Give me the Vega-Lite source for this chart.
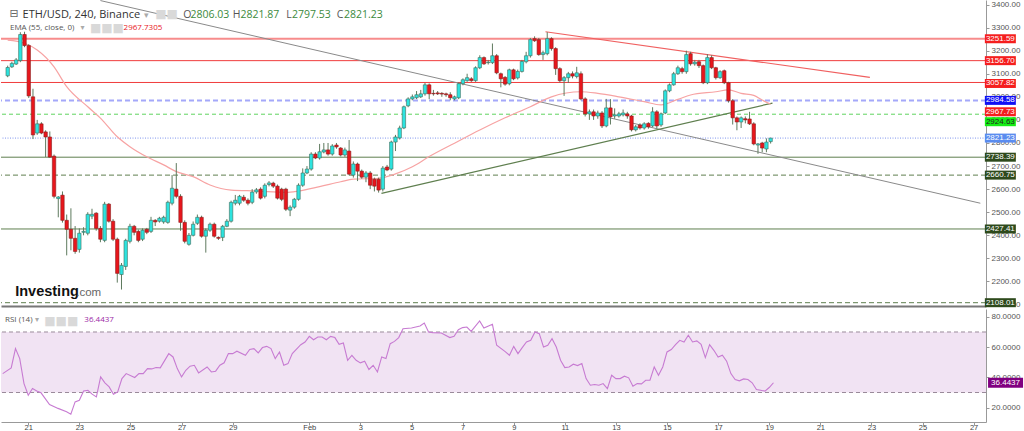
{
"$schema":"https://vega.github.io/schema/vega-lite/v6.json",
"padding":0,"spacing":0,"background":"white",
"config":{"view":{"stroke":null},"font":"Liberation Sans","axis":{"grid":false,"labelOverlap":false,"labelBound":false}},
"datasets":{
"candles":[
{"t":"2022-01-20T00:00:00Z","o":3091,"h":3135,"l":3085,"c":3127},
{"t":"2022-01-20T04:00:00Z","o":3130,"h":3152,"l":3125,"c":3145},
{"t":"2022-01-20T08:00:00Z","o":3142,"h":3168,"l":3138,"c":3160},
{"t":"2022-01-20T12:00:00Z","o":3157,"h":3280,"l":3150,"c":3270},
{"t":"2022-01-20T16:00:00Z","o":3270,"h":3282,"l":3215,"c":3222},
{"t":"2022-01-20T20:00:00Z","o":3222,"h":3228,"l":2995,"c":3004},
{"t":"2022-01-21T00:00:00Z","o":3000,"h":3035,"l":2817,"c":2835},
{"t":"2022-01-21T04:00:00Z","o":2843,"h":2900,"l":2835,"c":2883},
{"t":"2022-01-21T08:00:00Z","o":2883,"h":2890,"l":2838,"c":2843},
{"t":"2022-01-21T12:00:00Z","o":2848,"h":2855,"l":2739,"c":2826},
{"t":"2022-01-21T16:00:00Z","o":2826,"h":2850,"l":2735,"c":2739},
{"t":"2022-01-21T20:00:00Z","o":2743,"h":2750,"l":2560,"c":2569},
{"t":"2022-01-22T00:00:00Z","o":2559,"h":2570,"l":2478,"c":2566},
{"t":"2022-01-22T04:00:00Z","o":2574,"h":2590,"l":2455,"c":2465},
{"t":"2022-01-22T08:00:00Z","o":2465,"h":2490,"l":2313,"c":2426},
{"t":"2022-01-22T12:00:00Z","o":2426,"h":2517,"l":2335,"c":2387},
{"t":"2022-01-22T16:00:00Z","o":2387,"h":2440,"l":2320,"c":2330},
{"t":"2022-01-22T20:00:00Z","o":2339,"h":2430,"l":2325,"c":2409},
{"t":"2022-01-23T00:00:00Z","o":2413,"h":2435,"l":2400,"c":2417},
{"t":"2022-01-23T04:00:00Z","o":2409,"h":2500,"l":2400,"c":2491},
{"t":"2022-01-23T08:00:00Z","o":2483,"h":2515,"l":2470,"c":2491},
{"t":"2022-01-23T12:00:00Z","o":2496,"h":2500,"l":2420,"c":2430},
{"t":"2022-01-23T16:00:00Z","o":2430,"h":2440,"l":2370,"c":2383},
{"t":"2022-01-23T20:00:00Z","o":2378,"h":2545,"l":2370,"c":2535},
{"t":"2022-01-24T00:00:00Z","o":2535,"h":2540,"l":2455,"c":2461},
{"t":"2022-01-24T04:00:00Z","o":2461,"h":2470,"l":2375,"c":2383},
{"t":"2022-01-24T08:00:00Z","o":2383,"h":2390,"l":2195,"c":2235},
{"t":"2022-01-24T12:00:00Z","o":2230,"h":2280,"l":2165,"c":2270},
{"t":"2022-01-24T16:00:00Z","o":2265,"h":2385,"l":2250,"c":2378},
{"t":"2022-01-24T20:00:00Z","o":2374,"h":2450,"l":2365,"c":2439},
{"t":"2022-01-25T00:00:00Z","o":2439,"h":2445,"l":2400,"c":2413},
{"t":"2022-01-25T04:00:00Z","o":2417,"h":2425,"l":2370,"c":2378},
{"t":"2022-01-25T08:00:00Z","o":2383,"h":2430,"l":2375,"c":2422},
{"t":"2022-01-25T12:00:00Z","o":2426,"h":2432,"l":2405,"c":2413},
{"t":"2022-01-25T16:00:00Z","o":2417,"h":2480,"l":2410,"c":2465},
{"t":"2022-01-25T20:00:00Z","o":2465,"h":2470,"l":2440,"c":2458},
{"t":"2022-01-26T00:00:00Z","o":2461,"h":2480,"l":2455,"c":2474},
{"t":"2022-01-26T04:00:00Z","o":2458,"h":2485,"l":2450,"c":2478},
{"t":"2022-01-26T08:00:00Z","o":2456,"h":2550,"l":2450,"c":2543},
{"t":"2022-01-26T12:00:00Z","o":2539,"h":2661,"l":2530,"c":2604},
{"t":"2022-01-26T16:00:00Z","o":2600,"h":2713,"l":2560,"c":2569},
{"t":"2022-01-26T20:00:00Z","o":2569,"h":2578,"l":2420,"c":2456},
{"t":"2022-01-27T00:00:00Z","o":2456,"h":2465,"l":2365,"c":2374},
{"t":"2022-01-27T04:00:00Z","o":2361,"h":2410,"l":2355,"c":2400},
{"t":"2022-01-27T08:00:00Z","o":2400,"h":2460,"l":2395,"c":2448},
{"t":"2022-01-27T12:00:00Z","o":2452,"h":2490,"l":2445,"c":2478},
{"t":"2022-01-27T16:00:00Z","o":2478,"h":2485,"l":2390,"c":2396},
{"t":"2022-01-27T20:00:00Z","o":2396,"h":2430,"l":2325,"c":2422},
{"t":"2022-01-28T00:00:00Z","o":2422,"h":2455,"l":2415,"c":2448},
{"t":"2022-01-28T04:00:00Z","o":2448,"h":2455,"l":2390,"c":2396},
{"t":"2022-01-28T08:00:00Z","o":2391,"h":2395,"l":2380,"c":2387},
{"t":"2022-01-28T12:00:00Z","o":2391,"h":2445,"l":2375,"c":2439},
{"t":"2022-01-28T16:00:00Z","o":2439,"h":2470,"l":2435,"c":2461},
{"t":"2022-01-28T20:00:00Z","o":2461,"h":2550,"l":2455,"c":2543},
{"t":"2022-01-29T00:00:00Z","o":2539,"h":2575,"l":2530,"c":2552},
{"t":"2022-01-29T04:00:00Z","o":2539,"h":2575,"l":2530,"c":2569},
{"t":"2022-01-29T08:00:00Z","o":2565,"h":2575,"l":2545,"c":2552},
{"t":"2022-01-29T12:00:00Z","o":2552,"h":2560,"l":2530,"c":2539},
{"t":"2022-01-29T16:00:00Z","o":2543,"h":2600,"l":2535,"c":2587},
{"t":"2022-01-29T20:00:00Z","o":2588,"h":2605,"l":2580,"c":2597},
{"t":"2022-01-30T00:00:00Z","o":2600,"h":2608,"l":2555,"c":2561},
{"t":"2022-01-30T04:00:00Z","o":2569,"h":2625,"l":2560,"c":2617},
{"t":"2022-01-30T08:00:00Z","o":2620,"h":2635,"l":2612,"c":2627},
{"t":"2022-01-30T12:00:00Z","o":2626,"h":2632,"l":2605,"c":2613},
{"t":"2022-01-30T16:00:00Z","o":2613,"h":2620,"l":2555,"c":2561},
{"t":"2022-01-30T20:00:00Z","o":2600,"h":2606,"l":2548,"c":2556},
{"t":"2022-01-31T00:00:00Z","o":2600,"h":2606,"l":2505,"c":2513},
{"t":"2022-01-31T04:00:00Z","o":2509,"h":2530,"l":2483,"c":2522},
{"t":"2022-01-31T08:00:00Z","o":2522,"h":2562,"l":2515,"c":2556},
{"t":"2022-01-31T12:00:00Z","o":2556,"h":2625,"l":2550,"c":2617},
{"t":"2022-01-31T16:00:00Z","o":2617,"h":2690,"l":2610,"c":2670},
{"t":"2022-01-31T20:00:00Z","o":2670,"h":2700,"l":2665,"c":2687},
{"t":"2022-02-01T00:00:00Z","o":2687,"h":2760,"l":2680,"c":2752},
{"t":"2022-02-01T04:00:00Z","o":2752,"h":2760,"l":2730,"c":2735},
{"t":"2022-02-01T08:00:00Z","o":2735,"h":2796,"l":2728,"c":2762},
{"t":"2022-02-01T12:00:00Z","o":2761,"h":2800,"l":2755,"c":2770},
{"t":"2022-02-01T16:00:00Z","o":2770,"h":2800,"l":2745,"c":2752},
{"t":"2022-02-01T20:00:00Z","o":2752,"h":2795,"l":2745,"c":2787},
{"t":"2022-02-02T00:00:00Z","o":2791,"h":2800,"l":2775,"c":2783},
{"t":"2022-02-02T04:00:00Z","o":2778,"h":2782,"l":2742,"c":2748},
{"t":"2022-02-02T08:00:00Z","o":2748,"h":2780,"l":2740,"c":2770},
{"t":"2022-02-02T12:00:00Z","o":2765,"h":2813,"l":2660,"c":2665},
{"t":"2022-02-02T16:00:00Z","o":2661,"h":2720,"l":2650,"c":2709},
{"t":"2022-02-02T20:00:00Z","o":2709,"h":2715,"l":2635,"c":2678},
{"t":"2022-02-03T00:00:00Z","o":2678,"h":2685,"l":2645,"c":2652},
{"t":"2022-02-03T04:00:00Z","o":2652,"h":2678,"l":2630,"c":2670},
{"t":"2022-02-03T08:00:00Z","o":2670,"h":2678,"l":2600,"c":2617},
{"t":"2022-02-03T12:00:00Z","o":2643,"h":2650,"l":2590,"c":2613},
{"t":"2022-02-03T16:00:00Z","o":2643,"h":2650,"l":2585,"c":2596},
{"t":"2022-02-03T20:00:00Z","o":2600,"h":2700,"l":2590,"c":2691},
{"t":"2022-02-04T00:00:00Z","o":2696,"h":2705,"l":2678,"c":2683},
{"t":"2022-02-04T04:00:00Z","o":2687,"h":2810,"l":2680,"c":2804},
{"t":"2022-02-04T08:00:00Z","o":2804,"h":2835,"l":2765,"c":2826},
{"t":"2022-02-04T12:00:00Z","o":2822,"h":2875,"l":2815,"c":2865},
{"t":"2022-02-04T16:00:00Z","o":2865,"h":2962,"l":2860,"c":2957},
{"t":"2022-02-04T20:00:00Z","o":2961,"h":2998,"l":2955,"c":2991},
{"t":"2022-02-05T00:00:00Z","o":2991,"h":3010,"l":2985,"c":3000},
{"t":"2022-02-05T04:00:00Z","o":2996,"h":3025,"l":2990,"c":3009},
{"t":"2022-02-05T08:00:00Z","o":3000,"h":3030,"l":2995,"c":3013},
{"t":"2022-02-05T12:00:00Z","o":3013,"h":3060,"l":3005,"c":3052},
{"t":"2022-02-05T16:00:00Z","o":3052,"h":3058,"l":2990,"c":3013},
{"t":"2022-02-05T20:00:00Z","o":3015,"h":3030,"l":3005,"c":3013},
{"t":"2022-02-06T00:00:00Z","o":3017,"h":3025,"l":3008,"c":3013},
{"t":"2022-02-06T04:00:00Z","o":3015,"h":3020,"l":3000,"c":3012},
{"t":"2022-02-06T08:00:00Z","o":3013,"h":3018,"l":3000,"c":3009},
{"t":"2022-02-06T12:00:00Z","o":3009,"h":3020,"l":2985,"c":2996},
{"t":"2022-02-06T16:00:00Z","o":2991,"h":3005,"l":2985,"c":3000},
{"t":"2022-02-06T20:00:00Z","o":2996,"h":3062,"l":2990,"c":3057},
{"t":"2022-02-07T00:00:00Z","o":3057,"h":3080,"l":3050,"c":3074},
{"t":"2022-02-07T04:00:00Z","o":3070,"h":3100,"l":3065,"c":3083},
{"t":"2022-02-07T08:00:00Z","o":3078,"h":3085,"l":3065,"c":3070},
{"t":"2022-02-07T12:00:00Z","o":3070,"h":3132,"l":3065,"c":3126},
{"t":"2022-02-07T16:00:00Z","o":3126,"h":3180,"l":3120,"c":3170},
{"t":"2022-02-07T20:00:00Z","o":3170,"h":3175,"l":3138,"c":3143},
{"t":"2022-02-08T00:00:00Z","o":3148,"h":3160,"l":3140,"c":3150},
{"t":"2022-02-08T04:00:00Z","o":3148,"h":3231,"l":3142,"c":3178},
{"t":"2022-02-08T08:00:00Z","o":3178,"h":3185,"l":3098,"c":3104},
{"t":"2022-02-08T12:00:00Z","o":3100,"h":3105,"l":3041,"c":3078},
{"t":"2022-02-08T16:00:00Z","o":3084,"h":3090,"l":3048,"c":3055},
{"t":"2022-02-08T20:00:00Z","o":3057,"h":3122,"l":3050,"c":3117},
{"t":"2022-02-09T00:00:00Z","o":3117,"h":3122,"l":3072,"c":3078},
{"t":"2022-02-09T04:00:00Z","o":3082,"h":3118,"l":3075,"c":3110},
{"t":"2022-02-09T08:00:00Z","o":3110,"h":3160,"l":3105,"c":3153},
{"t":"2022-02-09T12:00:00Z","o":3152,"h":3195,"l":3145,"c":3178},
{"t":"2022-02-09T16:00:00Z","o":3178,"h":3255,"l":3170,"c":3248},
{"t":"2022-02-09T20:00:00Z","o":3252,"h":3262,"l":3238,"c":3243},
{"t":"2022-02-10T00:00:00Z","o":3248,"h":3255,"l":3178,"c":3183},
{"t":"2022-02-10T04:00:00Z","o":3183,"h":3200,"l":3160,"c":3191},
{"t":"2022-02-10T08:00:00Z","o":3187,"h":3280,"l":3180,"c":3252},
{"t":"2022-02-10T12:00:00Z","o":3252,"h":3258,"l":3200,"c":3209},
{"t":"2022-02-10T16:00:00Z","o":3209,"h":3215,"l":3095,"c":3122},
{"t":"2022-02-10T20:00:00Z","o":3122,"h":3128,"l":3062,"c":3070},
{"t":"2022-02-11T00:00:00Z","o":3070,"h":3090,"l":3004,"c":3083},
{"t":"2022-02-11T04:00:00Z","o":3083,"h":3108,"l":3060,"c":3100},
{"t":"2022-02-11T08:00:00Z","o":3100,"h":3110,"l":3080,"c":3090},
{"t":"2022-02-11T12:00:00Z","o":3088,"h":3130,"l":3080,"c":3104},
{"t":"2022-02-11T16:00:00Z","o":3100,"h":3110,"l":2985,"c":2991},
{"t":"2022-02-11T20:00:00Z","o":2991,"h":2998,"l":2915,"c":2926},
{"t":"2022-02-12T00:00:00Z","o":2926,"h":2945,"l":2900,"c":2935},
{"t":"2022-02-12T04:00:00Z","o":2935,"h":2945,"l":2900,"c":2917},
{"t":"2022-02-12T08:00:00Z","o":2917,"h":2940,"l":2905,"c":2930},
{"t":"2022-02-12T12:00:00Z","o":2930,"h":2938,"l":2865,"c":2874},
{"t":"2022-02-12T16:00:00Z","o":2874,"h":2991,"l":2868,"c":2952},
{"t":"2022-02-12T20:00:00Z","o":2952,"h":2990,"l":2880,"c":2913},
{"t":"2022-02-13T00:00:00Z","o":2917,"h":2950,"l":2905,"c":2922},
{"t":"2022-02-13T04:00:00Z","o":2917,"h":2935,"l":2910,"c":2926},
{"t":"2022-02-13T08:00:00Z","o":2922,"h":2945,"l":2915,"c":2930},
{"t":"2022-02-13T12:00:00Z","o":2926,"h":2935,"l":2905,"c":2917},
{"t":"2022-02-13T16:00:00Z","o":2917,"h":2922,"l":2850,"c":2857},
{"t":"2022-02-13T20:00:00Z","o":2857,"h":2878,"l":2850,"c":2870},
{"t":"2022-02-14T00:00:00Z","o":2878,"h":2885,"l":2858,"c":2865},
{"t":"2022-02-14T04:00:00Z","o":2865,"h":2890,"l":2858,"c":2883},
{"t":"2022-02-14T08:00:00Z","o":2885,"h":2890,"l":2862,"c":2870},
{"t":"2022-02-14T12:00:00Z","o":2874,"h":2955,"l":2868,"c":2935},
{"t":"2022-02-14T16:00:00Z","o":2935,"h":2942,"l":2862,"c":2874},
{"t":"2022-02-14T20:00:00Z","o":2878,"h":2932,"l":2870,"c":2926},
{"t":"2022-02-15T00:00:00Z","o":2930,"h":3032,"l":2925,"c":3026},
{"t":"2022-02-15T04:00:00Z","o":3026,"h":3058,"l":3020,"c":3052},
{"t":"2022-02-15T08:00:00Z","o":3052,"h":3108,"l":3048,"c":3100},
{"t":"2022-02-15T12:00:00Z","o":3100,"h":3135,"l":3095,"c":3126},
{"t":"2022-02-15T16:00:00Z","o":3122,"h":3130,"l":3100,"c":3109},
{"t":"2022-02-15T20:00:00Z","o":3109,"h":3200,"l":3100,"c":3183},
{"t":"2022-02-16T00:00:00Z","o":3187,"h":3195,"l":3135,"c":3143},
{"t":"2022-02-16T04:00:00Z","o":3143,"h":3160,"l":3135,"c":3150},
{"t":"2022-02-16T08:00:00Z","o":3152,"h":3160,"l":3125,"c":3135},
{"t":"2022-02-16T12:00:00Z","o":3135,"h":3140,"l":3055,"c":3061},
{"t":"2022-02-16T16:00:00Z","o":3061,"h":3185,"l":3055,"c":3170},
{"t":"2022-02-16T20:00:00Z","o":3170,"h":3180,"l":3120,"c":3126},
{"t":"2022-02-17T00:00:00Z","o":3126,"h":3130,"l":3075,"c":3083},
{"t":"2022-02-17T04:00:00Z","o":3083,"h":3115,"l":3078,"c":3109},
{"t":"2022-02-17T08:00:00Z","o":3113,"h":3118,"l":3055,"c":3061},
{"t":"2022-02-17T12:00:00Z","o":3061,"h":3065,"l":2975,"c":2983},
{"t":"2022-02-17T16:00:00Z","o":2983,"h":2990,"l":2880,"c":2909},
{"t":"2022-02-17T20:00:00Z","o":2909,"h":2915,"l":2855,"c":2891},
{"t":"2022-02-18T00:00:00Z","o":2891,"h":2915,"l":2865,"c":2909},
{"t":"2022-02-18T04:00:00Z","o":2905,"h":2915,"l":2885,"c":2900},
{"t":"2022-02-18T08:00:00Z","o":2904,"h":2935,"l":2878,"c":2883},
{"t":"2022-02-18T12:00:00Z","o":2883,"h":2890,"l":2790,"c":2796},
{"t":"2022-02-18T16:00:00Z","o":2791,"h":2800,"l":2753,"c":2796},
{"t":"2022-02-18T20:00:00Z","o":2800,"h":2805,"l":2760,"c":2778},
{"t":"2022-02-19T00:00:00Z","o":2774,"h":2820,"l":2760,"c":2804},
{"t":"2022-02-19T04:00:00Z","o":2806.03,"h":2821.87,"l":2797.53,"c":2821.23}
],
"ema":[
{"t":"2022-01-20T00:00:00Z","v":3246},{"t":"2022-01-20T16:00:00Z","v":3232},{"t":"2022-01-21T04:00:00Z","v":3203},{"t":"2022-01-21T20:00:00Z","v":3130},{"t":"2022-01-22T08:00:00Z","v":3044},{"t":"2022-01-23T04:00:00Z","v":2957},{"t":"2022-01-23T16:00:00Z","v":2908},{"t":"2022-01-24T08:00:00Z","v":2827},{"t":"2022-01-24T20:00:00Z","v":2784},{"t":"2022-01-25T12:00:00Z","v":2740},{"t":"2022-01-26T04:00:00Z","v":2705},{"t":"2022-01-26T16:00:00Z","v":2676},{"t":"2022-01-27T08:00:00Z","v":2654},{"t":"2022-01-28T00:00:00Z","v":2618},{"t":"2022-01-28T20:00:00Z","v":2596},{"t":"2022-01-29T20:00:00Z","v":2592},{"t":"2022-01-31T00:00:00Z","v":2586},{"t":"2022-01-31T12:00:00Z","v":2592},{"t":"2022-02-01T08:00:00Z","v":2611},{"t":"2022-02-02T04:00:00Z","v":2632},{"t":"2022-02-02T16:00:00Z","v":2643},{"t":"2022-02-03T16:00:00Z","v":2647},{"t":"2022-02-04T08:00:00Z","v":2666},{"t":"2022-02-05T00:00:00Z","v":2697},{"t":"2022-02-05T16:00:00Z","v":2741},{"t":"2022-02-06T16:00:00Z","v":2799},{"t":"2022-02-07T16:00:00Z","v":2856},{"t":"2022-02-08T16:00:00Z","v":2909},{"t":"2022-02-09T16:00:00Z","v":2957},{"t":"2022-02-10T12:00:00Z","v":3000},{"t":"2022-02-11T16:00:00Z","v":3022},{"t":"2022-02-12T08:00:00Z","v":3015},{"t":"2022-02-13T04:00:00Z","v":3000},{"t":"2022-02-14T04:00:00Z","v":2979},{"t":"2022-02-14T20:00:00Z","v":2965},{"t":"2022-02-15T12:00:00Z","v":2989},{"t":"2022-02-16T00:00:00Z","v":3008},{"t":"2022-02-17T00:00:00Z","v":3022},{"t":"2022-02-17T12:00:00Z","v":3030},{"t":"2022-02-18T00:00:00Z","v":3015},{"t":"2022-02-18T12:00:00Z","v":3006},{"t":"2022-02-18T20:00:00Z","v":2986},{"t":"2022-02-19T04:00:00Z","v":2967.73}
],
"rsi":[
{"t":"2022-01-20T00:00:00Z","v":42.5},{"t":"2022-01-20T08:00:00Z","v":46.3},{"t":"2022-01-20T12:00:00Z","v":59},{"t":"2022-01-20T16:00:00Z","v":52.4},{"t":"2022-01-20T20:00:00Z","v":35.9},
{"t":"2022-01-21T00:00:00Z","v":28.2},{"t":"2022-01-21T04:00:00Z","v":32.6},{"t":"2022-01-21T08:00:00Z","v":31},{"t":"2022-01-21T12:00:00Z","v":29.8},{"t":"2022-01-21T20:00:00Z","v":22.1},
{"t":"2022-01-22T04:00:00Z","v":19.5},{"t":"2022-01-22T12:00:00Z","v":17.3},{"t":"2022-01-22T16:00:00Z","v":15.7},{"t":"2022-01-22T20:00:00Z","v":23.8},
{"t":"2022-01-23T00:00:00Z","v":24.9},{"t":"2022-01-23T04:00:00Z","v":31},{"t":"2022-01-23T08:00:00Z","v":31.5},{"t":"2022-01-23T12:00:00Z","v":28.9},{"t":"2022-01-23T16:00:00Z","v":27.1},{"t":"2022-01-23T20:00:00Z","v":40.3},
{"t":"2022-01-24T00:00:00Z","v":36.4},{"t":"2022-01-24T04:00:00Z","v":33.7},{"t":"2022-01-24T08:00:00Z","v":28.9},{"t":"2022-01-24T12:00:00Z","v":30.4},{"t":"2022-01-24T16:00:00Z","v":39.2},{"t":"2022-01-24T20:00:00Z","v":42.5},
{"t":"2022-01-25T04:00:00Z","v":39.9},{"t":"2022-01-25T08:00:00Z","v":42.5},{"t":"2022-01-25T12:00:00Z","v":42.5},{"t":"2022-01-25T16:00:00Z","v":45.8},{"t":"2022-01-25T20:00:00Z","v":45.6},
{"t":"2022-01-26T00:00:00Z","v":46.5},{"t":"2022-01-26T04:00:00Z","v":46.3},{"t":"2022-01-26T12:00:00Z","v":55.7},{"t":"2022-01-26T16:00:00Z","v":53.5},{"t":"2022-01-26T20:00:00Z","v":45.8},
{"t":"2022-01-27T00:00:00Z","v":40.3},{"t":"2022-01-27T04:00:00Z","v":44.7},{"t":"2022-01-27T08:00:00Z","v":47.4},{"t":"2022-01-27T12:00:00Z","v":48},{"t":"2022-01-27T16:00:00Z","v":43},
{"t":"2022-01-28T00:00:00Z","v":46.9},{"t":"2022-01-28T04:00:00Z","v":43.6},{"t":"2022-01-28T08:00:00Z","v":44.1},{"t":"2022-01-28T12:00:00Z","v":48},{"t":"2022-01-28T16:00:00Z","v":49.6},{"t":"2022-01-28T20:00:00Z","v":55.7},
{"t":"2022-01-29T00:00:00Z","v":55.7},{"t":"2022-01-29T04:00:00Z","v":57.3},{"t":"2022-01-29T12:00:00Z","v":54.6},{"t":"2022-01-29T16:00:00Z","v":58.4},{"t":"2022-01-29T20:00:00Z","v":59},
{"t":"2022-01-30T00:00:00Z","v":56.2},{"t":"2022-01-30T04:00:00Z","v":59.7},{"t":"2022-01-30T08:00:00Z","v":60.5},{"t":"2022-01-30T12:00:00Z","v":59},{"t":"2022-01-30T16:00:00Z","v":52.4},{"t":"2022-01-30T20:00:00Z","v":56.8},
{"t":"2022-01-31T00:00:00Z","v":48},{"t":"2022-01-31T04:00:00Z","v":49.1},{"t":"2022-01-31T08:00:00Z","v":55.7},{"t":"2022-01-31T16:00:00Z","v":61.6},{"t":"2022-01-31T20:00:00Z","v":63.4},
{"t":"2022-02-01T00:00:00Z","v":67.1},{"t":"2022-02-01T04:00:00Z","v":64.9},{"t":"2022-02-01T08:00:00Z","v":66.7},{"t":"2022-02-01T12:00:00Z","v":66.7},{"t":"2022-02-01T16:00:00Z","v":64.9},{"t":"2022-02-01T20:00:00Z","v":67.1},
{"t":"2022-02-02T00:00:00Z","v":66.3},{"t":"2022-02-02T04:00:00Z","v":61.9},{"t":"2022-02-02T08:00:00Z","v":62.7},{"t":"2022-02-02T12:00:00Z","v":51.3},{"t":"2022-02-02T16:00:00Z","v":54.6},{"t":"2022-02-02T20:00:00Z","v":51.3},
{"t":"2022-02-03T00:00:00Z","v":49.6},{"t":"2022-02-03T04:00:00Z","v":50.7},{"t":"2022-02-03T08:00:00Z","v":45.2},{"t":"2022-02-03T12:00:00Z","v":48},{"t":"2022-02-03T16:00:00Z","v":43.6},{"t":"2022-02-03T20:00:00Z","v":53.5},
{"t":"2022-02-04T00:00:00Z","v":52.4},{"t":"2022-02-04T04:00:00Z","v":62.3},{"t":"2022-02-04T08:00:00Z","v":63.8},{"t":"2022-02-04T12:00:00Z","v":66.3},{"t":"2022-02-04T16:00:00Z","v":72.2},
{"t":"2022-02-05T00:00:00Z","v":72.6},{"t":"2022-02-05T04:00:00Z","v":73.3},{"t":"2022-02-05T08:00:00Z","v":74},{"t":"2022-02-05T12:00:00Z","v":75.9},{"t":"2022-02-05T16:00:00Z","v":70},{"t":"2022-02-05T20:00:00Z","v":69.6},
{"t":"2022-02-06T04:00:00Z","v":69.3},{"t":"2022-02-06T12:00:00Z","v":66.3},{"t":"2022-02-06T16:00:00Z","v":67.1},{"t":"2022-02-06T20:00:00Z","v":71.5},
{"t":"2022-02-07T00:00:00Z","v":72.9},{"t":"2022-02-07T04:00:00Z","v":73.3},{"t":"2022-02-07T08:00:00Z","v":70.4},{"t":"2022-02-07T16:00:00Z","v":77.3},{"t":"2022-02-07T20:00:00Z","v":72.6},
{"t":"2022-02-08T04:00:00Z","v":75.1},{"t":"2022-02-08T08:00:00Z","v":61.2},{"t":"2022-02-08T16:00:00Z","v":57},{"t":"2022-02-08T20:00:00Z","v":54.6},
{"t":"2022-02-09T00:00:00Z","v":60.5},{"t":"2022-02-09T04:00:00Z","v":55.7},{"t":"2022-02-09T08:00:00Z","v":59.7},{"t":"2022-02-09T12:00:00Z","v":63.4},{"t":"2022-02-09T16:00:00Z","v":64.5},{"t":"2022-02-09T20:00:00Z","v":70},
{"t":"2022-02-10T00:00:00Z","v":68.9},{"t":"2022-02-10T04:00:00Z","v":60.1},{"t":"2022-02-10T08:00:00Z","v":61.2},{"t":"2022-02-10T12:00:00Z","v":65.6},{"t":"2022-02-10T16:00:00Z","v":60.1},{"t":"2022-02-10T20:00:00Z","v":51.3},
{"t":"2022-02-11T00:00:00Z","v":46.5},{"t":"2022-02-11T04:00:00Z","v":46.9},{"t":"2022-02-11T08:00:00Z","v":48.7},{"t":"2022-02-11T12:00:00Z","v":47.8},{"t":"2022-02-11T16:00:00Z","v":49.1},{"t":"2022-02-11T20:00:00Z","v":39.2},
{"t":"2022-02-12T00:00:00Z","v":34.8},{"t":"2022-02-12T04:00:00Z","v":35.3},{"t":"2022-02-12T08:00:00Z","v":34.8},{"t":"2022-02-12T12:00:00Z","v":35.9},{"t":"2022-02-12T16:00:00Z","v":32.6},{"t":"2022-02-12T20:00:00Z","v":41.4},
{"t":"2022-02-13T00:00:00Z","v":39.2},{"t":"2022-02-13T04:00:00Z","v":39.2},{"t":"2022-02-13T08:00:00Z","v":40.8},{"t":"2022-02-13T12:00:00Z","v":39.7},{"t":"2022-02-13T16:00:00Z","v":34.2},{"t":"2022-02-13T20:00:00Z","v":35.9},
{"t":"2022-02-14T00:00:00Z","v":35.7},{"t":"2022-02-14T04:00:00Z","v":38.1},{"t":"2022-02-14T08:00:00Z","v":38.1},{"t":"2022-02-14T12:00:00Z","v":46.9},{"t":"2022-02-14T16:00:00Z","v":41.4},{"t":"2022-02-14T20:00:00Z","v":46.9},
{"t":"2022-02-15T00:00:00Z","v":56.8},{"t":"2022-02-15T04:00:00Z","v":58.4},{"t":"2022-02-15T08:00:00Z","v":61.6},{"t":"2022-02-15T12:00:00Z","v":64.5},{"t":"2022-02-15T16:00:00Z","v":63.4},{"t":"2022-02-15T20:00:00Z","v":67.8},
{"t":"2022-02-16T00:00:00Z","v":63.4},{"t":"2022-02-16T04:00:00Z","v":64.1},{"t":"2022-02-16T08:00:00Z","v":61.9},{"t":"2022-02-16T12:00:00Z","v":53.1},{"t":"2022-02-16T16:00:00Z","v":61.6},{"t":"2022-02-16T20:00:00Z","v":57.9},
{"t":"2022-02-17T00:00:00Z","v":53.5},{"t":"2022-02-17T04:00:00Z","v":54.6},{"t":"2022-02-17T08:00:00Z","v":50.7},{"t":"2022-02-17T12:00:00Z","v":42.5},{"t":"2022-02-17T16:00:00Z","v":38.6},{"t":"2022-02-17T20:00:00Z","v":37.7},
{"t":"2022-02-18T00:00:00Z","v":39},{"t":"2022-02-18T04:00:00Z","v":38.6},{"t":"2022-02-18T08:00:00Z","v":36.4},{"t":"2022-02-18T12:00:00Z","v":32},{"t":"2022-02-18T16:00:00Z","v":31.5},{"t":"2022-02-18T20:00:00Z","v":30.9},
{"t":"2022-02-19T00:00:00Z","v":33.3},{"t":"2022-02-19T04:00:00Z","v":36.4437}
]
},
"vconcat":[
{
"width":985,"height":306,
"layer":[
{"data":{"values":[{"level":3156.70}]},"mark":{"type":"rule","color":"#f03c3c","strokeWidth":1},
 "encoding":{"y":{"field":"level","type":"quantitative","scale":{"domain":[2093.7,3419.5],"nice":false,"zero":false},
  "axis":{"orient":"right","values":[2100,2200,2300,2400,2500,2600,2700,2800,2900,3000,3100,3200,3300,3400],"tickCount":30,"format":".2f","labelFontSize":8,"labelColor":"#555","tickSize":3,"tickColor":"#999","domainColor":"#999","labelPadding":2,"labelOverlap":false,"labelBound":false,"title":null}}}},
{"data":{"values":[{"level":3057.82}]},"mark":{"type":"rule","color":"#f03c3c","strokeWidth":1,"yOffset":-1},"encoding":{"y":{"field":"level","type":"quantitative"}}},
{"data":{"values":[{"level":3251.59}]},"mark":{"type":"rule","color":"#f78c8c","strokeWidth":2},"encoding":{"y":{"field":"level","type":"quantitative"}}},
{"data":{"values":[{"level":2984.58}]},"mark":{"type":"rule","color":"#a4a8fa","strokeWidth":2,"strokeDash":[5,3]},"encoding":{"y":{"field":"level","type":"quantitative"}}},
{"data":{"values":[{"level":2924.63}]},"mark":{"type":"rule","color":"#5fd45f","strokeWidth":1,"strokeDash":[4,3]},"encoding":{"y":{"field":"level","type":"quantitative"}}},
{"data":{"values":[{"level":2821.23}]},"mark":{"type":"rule","color":"#7f95ee","strokeWidth":1,"strokeDash":[1,1.5]},"encoding":{"y":{"field":"level","type":"quantitative"}}},
{"data":{"values":[{"level":2738.39},{"level":2427.41}]},"mark":{"type":"rule","color":"#5f7f4f","strokeWidth":1},"encoding":{"y":{"field":"level","type":"quantitative"}}},
{"data":{"values":[{"level":2660.75},{"level":2108.01}]},"mark":{"type":"rule","color":"#5f7f4f","strokeWidth":1,"strokeDash":[5,3]},"encoding":{"y":{"field":"level","type":"quantitative"}}},
{"data":{"values":[{"t":"2022-01-23T16:00:00Z","p":3417},{"t":"2022-02-27T11:00:00Z","p":2539}]},"mark":{"type":"line","color":"#8a8a8a","strokeWidth":1,"clip":true},
 "encoding":{"x":{"field":"t","type":"temporal","scale":{"type":"utc","domain":[{"year":2022,"month":1,"date":19,"hours":22,"minutes":24,"utc":true},{"year":2022,"month":2,"date":27,"hours":11,"minutes":38,"utc":true}]},
  "axis":{"orient":"bottom","labels":false,"ticks":false,"domain":true,"domainColor":"#777","domainWidth":2,"title":null}},
  "y":{"field":"p","type":"quantitative"}}},
{"data":{"values":[{"t":"2022-02-10T06:20:00Z","p":3282},{"t":"2022-02-23T02:10:00Z","p":3084}]},"mark":{"type":"line","color":"#f06060","strokeWidth":1.2,"clip":true},
 "encoding":{"x":{"field":"t","type":"temporal"},"y":{"field":"p","type":"quantitative"}}},
{"data":{"values":[{"t":"2022-02-03T18:42:00Z","p":2582},{"t":"2022-02-19T05:45:00Z","p":2973}]},"mark":{"type":"line","color":"#5f7f4f","strokeWidth":1.2,"clip":true},
 "encoding":{"x":{"field":"t","type":"temporal"},"y":{"field":"p","type":"quantitative"}}},
{"data":{"name":"ema"},"mark":{"type":"line","color":"#f7a3a3","strokeWidth":1.2,"clip":true,"interpolate":"monotone"},
 "encoding":{"x":{"field":"t","type":"temporal"},"y":{"field":"v","type":"quantitative"}}},
{"data":{"name":"candles"},"mark":{"type":"rule","color":"#5e7a5e","strokeWidth":1},
 "encoding":{"x":{"field":"t","type":"temporal"},"y":{"field":"l","type":"quantitative"},"y2":{"field":"h"}}},
{"data":{"name":"candles"},"mark":{"type":"bar","size":3.4,"strokeWidth":0.6},
 "encoding":{"x":{"field":"t","type":"temporal"},"y":{"field":"o","type":"quantitative"},"y2":{"field":"c"},
  "fill":{"condition":{"test":"datum.c >= datum.o","value":"#2de3df"},"value":"#e8161c"},
  "stroke":{"condition":{"test":"datum.c >= datum.o","value":"#3f6b5c"},"value":"#8a1c1c"}}},
{"data":{"values":[{"label":"⊟"}]},"mark":{"type":"text","font":"DejaVu Sans","fontSize":11,"color":"#666","align":"center","baseline":"middle"},
 "encoding":{"x":{"datum":{"year":2022,"month":1,"date":20,"hours":6,"minutes":12,"utc":true},"type":"temporal"},"y":{"datum":3360,"type":"quantitative"},"text":{"field":"label"}}},
{"data":{"values":[{"label":"ETH/USD, 240, Binance"}]},"mark":{"type":"text","font":"Open Sans","fontSize":11,"color":"#333","align":"left","baseline":"middle"},
 "encoding":{"x":{"datum":{"year":2022,"month":1,"date":20,"hours":14,"minutes":5,"utc":true},"type":"temporal"},"y":{"datum":3354.5,"type":"quantitative"},"text":{"field":"label"}}},
{"data":{"values":[{"label":"▾"}]},"mark":{"type":"text","font":"DejaVu Sans","fontSize":9,"color":"#aaa","align":"center","baseline":"middle"},
 "encoding":{"x":{"datum":{"year":2022,"month":1,"date":25,"hours":11,"minutes":30,"utc":true},"type":"temporal"},"y":{"datum":3354.5,"type":"quantitative"},"text":{"field":"label"}}},
{"data":{"values":[{"label":"■■"}]},"mark":{"type":"text","font":"DejaVu Sans","fontSize":12,"color":"#d9d9d9","align":"left","baseline":"middle"},
 "encoding":{"x":{"datum":{"year":2022,"month":1,"date":25,"hours":20,"minutes":0,"utc":true},"type":"temporal"},"y":{"datum":3357,"type":"quantitative"},"text":{"field":"label"}}},
{"data":{"values":[{"label":"O"}]},"mark":{"type":"text","font":"Open Sans","fontSize":10.5,"color":"#555","align":"left","baseline":"middle"},
 "encoding":{"x":{"datum":{"year":2022,"month":1,"date":26,"hours":22,"minutes":30,"utc":true},"type":"temporal"},"y":{"datum":3354.5,"type":"quantitative"},"text":{"field":"label"}}},
{"data":{"values":[{"label":"2806.03"}]},"mark":{"type":"text","font":"Open Sans","fontSize":10.5,"color":"#3c8a3c","align":"left","baseline":"middle"},
 "encoding":{"x":{"datum":{"year":2022,"month":1,"date":27,"hours":5,"minutes":30,"utc":true},"type":"temporal"},"y":{"datum":3354.5,"type":"quantitative"},"text":{"field":"label"}}},
{"data":{"values":[{"label":"H"}]},"mark":{"type":"text","font":"Open Sans","fontSize":10.5,"color":"#555","align":"left","baseline":"middle"},
 "encoding":{"x":{"datum":{"year":2022,"month":1,"date":28,"hours":21,"minutes":30,"utc":true},"type":"temporal"},"y":{"datum":3354.5,"type":"quantitative"},"text":{"field":"label"}}},
{"data":{"values":[{"label":"2821.87"}]},"mark":{"type":"text","font":"Open Sans","fontSize":10.5,"color":"#3c8a3c","align":"left","baseline":"middle"},
 "encoding":{"x":{"datum":{"year":2022,"month":1,"date":29,"hours":5,"minutes":1,"utc":true},"type":"temporal"},"y":{"datum":3354.5,"type":"quantitative"},"text":{"field":"label"}}},
{"data":{"values":[{"label":"L"}]},"mark":{"type":"text","font":"Open Sans","fontSize":10.5,"color":"#555","align":"left","baseline":"middle"},
 "encoding":{"x":{"datum":{"year":2022,"month":1,"date":31,"hours":0,"minutes":14,"utc":true},"type":"temporal"},"y":{"datum":3354.5,"type":"quantitative"},"text":{"field":"label"}}},
{"data":{"values":[{"label":"2797.53"}]},"mark":{"type":"text","font":"Open Sans","fontSize":10.5,"color":"#3c8a3c","align":"left","baseline":"middle"},
 "encoding":{"x":{"datum":{"year":2022,"month":1,"date":31,"hours":5,"minutes":52,"utc":true},"type":"temporal"},"y":{"datum":3354.5,"type":"quantitative"},"text":{"field":"label"}}},
{"data":{"values":[{"label":"C"}]},"mark":{"type":"text","font":"Open Sans","fontSize":10.5,"color":"#555","align":"left","baseline":"middle"},
 "encoding":{"x":{"datum":{"year":2022,"month":2,"date":2,"hours":0,"minutes":9,"utc":true},"type":"temporal"},"y":{"datum":3354.5,"type":"quantitative"},"text":{"field":"label"}}},
{"data":{"values":[{"label":"2821.23"}]},"mark":{"type":"text","font":"Open Sans","fontSize":10.5,"color":"#3c8a3c","align":"left","baseline":"middle"},
 "encoding":{"x":{"datum":{"year":2022,"month":2,"date":2,"hours":7,"minutes":12,"utc":true},"type":"temporal"},"y":{"datum":3354.5,"type":"quantitative"},"text":{"field":"label"}}},
{"data":{"values":[{"label":"EMA (55, close, 0)"}]},"mark":{"type":"text","font":"Open Sans","fontSize":8,"color":"#555","align":"left","baseline":"middle"},
 "encoding":{"x":{"datum":{"year":2022,"month":1,"date":20,"hours":2,"minutes":10,"utc":true},"type":"temporal"},"y":{"datum":3297,"type":"quantitative"},"text":{"field":"label"}}},
{"data":{"values":[{"label":"▾"}]},"mark":{"type":"text","font":"DejaVu Sans","fontSize":8,"color":"#aaa","align":"center","baseline":"middle"},
 "encoding":{"x":{"datum":{"year":2022,"month":1,"date":22,"hours":23,"minutes":0,"utc":true},"type":"temporal"},"y":{"datum":3297,"type":"quantitative"},"text":{"field":"label"}}},
{"data":{"values":[{"label":"■■■"}]},"mark":{"type":"text","font":"DejaVu Sans","fontSize":12,"color":"#d9d9d9","align":"left","baseline":"middle"},
 "encoding":{"x":{"datum":{"year":2022,"month":1,"date":23,"hours":6,"minutes":0,"utc":true},"type":"temporal"},"y":{"datum":3299,"type":"quantitative"},"text":{"field":"label"}}},
{"data":{"values":[{"label":"2967.7305"}]},"mark":{"type":"text","font":"Open Sans","fontSize":8,"color":"#e8161c","align":"left","baseline":"middle"},
 "encoding":{"x":{"datum":{"year":2022,"month":1,"date":24,"hours":14,"minutes":0,"utc":true},"type":"temporal"},"y":{"datum":3297,"type":"quantitative"},"text":{"field":"label"}}},
{"data":{"values":[{"label":"Investing"}]},"mark":{"type":"text","font":"Liberation Sans","fontWeight":"bold","fontSize":14.5,"color":"#111","align":"left","baseline":"alphabetic"},
 "encoding":{"x":{"datum":{"year":2022,"month":1,"date":20,"hours":7,"minutes":8,"utc":true},"type":"temporal"},"y":{"datum":2138,"type":"quantitative"},"text":{"field":"label"}}},
{"data":{"values":[{"label":".com"}]},"mark":{"type":"text","font":"Liberation Sans","fontSize":11.5,"color":"#666","align":"left","baseline":"alphabetic"},
 "encoding":{"x":{"datum":{"year":2022,"month":1,"date":22,"hours":17,"minutes":5,"utc":true},"type":"temporal"},"y":{"datum":2138,"type":"quantitative"},"text":{"field":"label"}}},
{"data":{"values":[{"price":3251.59,"kind":"resistance"},{"price":3156.70,"kind":"resistance"},{"price":3057.82,"kind":"resistance"},{"price":2984.58,"kind":"pivot"},{"price":2821.23,"kind":"last"},{"price":2738.39,"kind":"support"},{"price":2660.75,"kind":"support"},{"price":2427.41,"kind":"support"},{"price":2108.01,"kind":"support"}]},
 "layer":[
 {"mark":{"type":"point","shape":"M-1,-0.29L1,-0.29L1,0.29L-1,0.29Z","size":961,"filled":true,"opacity":1},
  "encoding":{"x":{"datum":{"year":2022,"month":2,"date":28,"hours":6,"utc":true},"type":"temporal"},"y":{"field":"price","type":"quantitative"},
   "fill":{"condition":[{"test":"datum.kind === 'resistance'","value":"#f51e1e"},{"test":"datum.kind === 'pivot'","value":"#1010f5"},{"test":"datum.kind === 'last'","value":"#5a8cef"}],"value":"#2e4a1c"}}},
 {"mark":{"type":"text","fontSize":8,"color":"#fff","align":"center","baseline":"middle"},
  "encoding":{"x":{"datum":{"year":2022,"month":2,"date":28,"hours":6,"utc":true},"type":"temporal"},"y":{"field":"price","type":"quantitative"},"text":{"field":"price","format":".2f"}}}
 ]},
{"data":{"values":[{"price":2967.73,"kind":"ema"},{"price":2924.63,"kind":"fib"}]},
 "layer":[
 {"mark":{"type":"point","shape":"M-1,-0.29L1,-0.29L1,0.29L-1,0.29Z","size":961,"filled":true,"opacity":1,"yOffset":7.5},
  "encoding":{"x":{"datum":{"year":2022,"month":2,"date":28,"hours":6,"utc":true},"type":"temporal"},"y":{"field":"price","type":"quantitative"},
   "fill":{"condition":{"test":"datum.kind === 'fib'","value":"#14ee14"},"value":"#f51e1e"}}},
 {"mark":{"type":"text","fontSize":8,"align":"center","baseline":"middle","yOffset":7.5},
  "encoding":{"x":{"datum":{"year":2022,"month":2,"date":28,"hours":6,"utc":true},"type":"temporal"},"y":{"field":"price","type":"quantitative"},"text":{"field":"price","format":".2f"},
   "color":{"condition":{"test":"datum.kind === 'fib'","value":"#222"},"value":"#fff"}}}
 ]}
]
},
{
"width":985,"height":113,
"layer":[
{"data":{"values":[{}]},"mark":{"type":"rect","color":"#f1e3f3"},
 "encoding":{"y":{"datum":70,"type":"quantitative","scale":{"domain":[10.5,85.2],"nice":false,"zero":false},
  "axis":{"orient":"right","values":[20,40,60,80],"tickCount":20,"format":".4f","labelFontSize":8,"labelColor":"#555","tickSize":3,"tickColor":"#999","domainColor":"#999","labelPadding":2,"labelOverlap":false,"labelBound":false,"title":null}},
  "y2":{"datum":30}}},
{"data":{"values":[{"lvl":70},{"lvl":30}]},"mark":{"type":"rule","color":"#9a8a9a","strokeWidth":1,"strokeDash":[4,3]},
 "encoding":{"y":{"field":"lvl","type":"quantitative"}}},
{"data":{"name":"rsi"},"mark":{"type":"line","color":"#c77bd2","strokeWidth":1.1,"clip":true},
 "encoding":{"x":{"field":"t","type":"temporal","scale":{"type":"utc","domain":[{"year":2022,"month":1,"date":19,"hours":22,"minutes":24,"utc":true},{"year":2022,"month":2,"date":27,"hours":11,"minutes":38,"utc":true}]},
  "axis":{"orient":"bottom","title":null,"tickCount":40,"values":[{"year":2022,"month":1,"date":21,"utc":true},{"year":2022,"month":1,"date":23,"utc":true},{"year":2022,"month":1,"date":25,"utc":true},{"year":2022,"month":1,"date":27,"utc":true},{"year":2022,"month":1,"date":29,"utc":true},{"year":2022,"month":2,"date":1,"utc":true},{"year":2022,"month":2,"date":3,"utc":true},{"year":2022,"month":2,"date":5,"utc":true},{"year":2022,"month":2,"date":7,"utc":true},{"year":2022,"month":2,"date":9,"utc":true},{"year":2022,"month":2,"date":11,"utc":true},{"year":2022,"month":2,"date":13,"utc":true},{"year":2022,"month":2,"date":15,"utc":true},{"year":2022,"month":2,"date":17,"utc":true},{"year":2022,"month":2,"date":19,"utc":true},{"year":2022,"month":2,"date":21,"utc":true},{"year":2022,"month":2,"date":23,"utc":true},{"year":2022,"month":2,"date":25,"utc":true},{"year":2022,"month":2,"date":27,"utc":true}],
   "labelExpr":"utcFormat(datum.value, '%d') == '01' ? 'Feb' : utcFormat(datum.value, '%-d')","labelFontSize":7.5,"labelColor":"#444","tickSize":3,"tickColor":"#999","domainColor":"#999","labelPadding":2,"labelBaseline":"middle","labelFlush":false,"labelOverlap":false}},
  "y":{"field":"v","type":"quantitative"}}},
{"data":{"values":[{"label":"RSI (14)"}]},"mark":{"type":"text","font":"Open Sans","fontSize":8,"color":"#555","align":"left","baseline":"middle"},
 "encoding":{"x":{"datum":{"year":2022,"month":1,"date":20,"hours":2,"minutes":10,"utc":true},"type":"temporal"},"y":{"datum":78.1,"type":"quantitative"},"text":{"field":"label"}}},
{"data":{"values":[{"label":"▾"}]},"mark":{"type":"text","font":"DejaVu Sans","fontSize":8,"color":"#aaa","align":"center","baseline":"middle"},
 "encoding":{"x":{"datum":{"year":2022,"month":1,"date":21,"hours":8,"minutes":13,"utc":true},"type":"temporal"},"y":{"datum":78,"type":"quantitative"},"text":{"field":"label"}}},
{"data":{"values":[{"label":"■■■"}]},"mark":{"type":"text","font":"DejaVu Sans","fontSize":12,"color":"#d9d9d9","align":"left","baseline":"middle"},
 "encoding":{"x":{"datum":{"year":2022,"month":1,"date":21,"hours":15,"minutes":0,"utc":true},"type":"temporal"},"y":{"datum":77,"type":"quantitative"},"text":{"field":"label"}}},
{"data":{"values":[{"label":"36.4437"}]},"mark":{"type":"text","font":"Open Sans","fontSize":8,"color":"#9b1fa6","align":"left","baseline":"middle"},
 "encoding":{"x":{"datum":{"year":2022,"month":1,"date":23,"hours":4,"minutes":39,"utc":true},"type":"temporal"},"y":{"datum":78.1,"type":"quantitative"},"text":{"field":"label"}}},
{"data":{"values":[{"rsi":36.4437}]},
 "layer":[
 {"mark":{"type":"point","shape":"M-1,-0.29L1,-0.29L1,0.29L-1,0.29Z","size":1225,"filled":true,"opacity":1,"color":"#800080"},
  "encoding":{"x":{"datum":{"year":2022,"month":2,"date":28,"hours":6,"utc":true},"type":"temporal"},"y":{"field":"rsi","type":"quantitative"}}},
 {"mark":{"type":"text","fontSize":8,"color":"#fff","align":"center","baseline":"middle"},
  "encoding":{"x":{"datum":{"year":2022,"month":2,"date":28,"hours":6,"utc":true},"type":"temporal"},"y":{"field":"rsi","type":"quantitative"},"text":{"field":"rsi","format":".4f"}}}
 ]}
]
}
]
}
